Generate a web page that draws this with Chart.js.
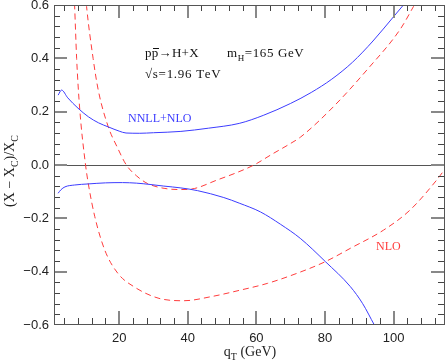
<!DOCTYPE html>
<html>
<head>
<meta charset="utf-8">
<script src="https://cdn.jsdelivr.net/npm/chart.js@4.4.1/dist/chart.umd.min.js"></script>
<style>
  html, body { margin: 0; padding: 0; background: #fff; }
</style>
</head>
<body>
<canvas id="chart" width="448" height="364"></canvas>
<script>
// axis ranges and tick labels
const xMin = 1, xMax = 115, yMin = -0.6, yMax = 0.6;
const xMajor = [20, 40, 60, 80, 100];
const yMajor = [-0.6, -0.4, -0.2, 0.0, 0.2, 0.4, 0.6];

// NNLL+NLO band (upper and lower edge)
const nnllUpperX = [2.2, 3.2, 5, 8, 11, 14, 17, 20, 22, 26, 30, 38, 46, 55, 62, 70, 76, 82, 88, 94, 100, 104];
const nnllUpperY = [0.262, 0.281, 0.252, 0.213, 0.181, 0.158, 0.142, 0.127, 0.120, 0.119, 0.121, 0.126, 0.138, 0.156, 0.186, 0.231, 0.272, 0.322, 0.385, 0.465, 0.556, 0.617];
const nnllLowerX = [2.2, 3, 4.2, 7, 11, 16, 21, 25, 29, 33, 38, 42.8, 50.5, 55, 61.2, 67, 72.8, 80.1, 87.4, 91, 94.4, 95.5];
const nnllLowerY = [-0.106, -0.093, -0.082, -0.075, -0.071, -0.067, -0.066, -0.068, -0.073, -0.079, -0.086, -0.096, -0.122, -0.143, -0.176, -0.222, -0.275, -0.362, -0.456, -0.52, -0.6, -0.625];

// NLO band (two dashed edges)
const nloAX = [6.7, 7.0, 7.6, 8.5, 10.2, 11.0, 12.9, 15.8, 19.6, 24.5, 31.6, 38.9, 46.7, 55.4, 63.2, 72.5, 80.1, 87.4, 97.1, 104.8, 112.6, 115];
const nloAY = [0.68, 0.6, 0.4, 0.21, 0.0, -0.07, -0.194, -0.319, -0.406, -0.458, -0.500, -0.509, -0.494, -0.469, -0.444, -0.403, -0.3625, -0.3125, -0.244, -0.169, -0.056, -0.015];
const nloBX = [10.2, 10.5, 12.4, 13.9, 16.8, 19.5, 22.1, 25, 28.2, 33.1, 38, 42, 48.6, 54, 59.3, 64.5, 70, 72.9, 82.5, 92.2, 102, 105.8, 106.5];
const nloBY = [0.64, 0.594, 0.40, 0.281, 0.144, 0.065, 0.0, -0.04, -0.069, -0.0875, -0.092, -0.088, -0.056, -0.03, 0.0, 0.04, 0.081, 0.105, 0.219, 0.356, 0.51, 0.594, 0.61];

const blue = '#3c3cff';
const red = '#ff3c3c';
const frameCol = '#555';
const minorCol = '#444';
const majorCol = '#888';

function pts(xs, ys) {
  return xs.map((x, i) => ({ x: x, y: ys[i] }));
}

function lineSet(xs, ys, color, dashed) {
  return {
    data: pts(xs, ys),
    borderColor: color,
    borderWidth: 1,
    borderDash: dashed ? [6, 4] : [],
    pointRadius: 0,
    fill: false,
    cubicInterpolationMode: 'monotone'
  };
}

// text made of pieces: plain, subscript, or with an overbar; sp = extra px per char
function drawRich(ctx, parts, x, y, size, family, color, align, sp) {
  sp = sp || 0;
  const pieceW = p => {
    ctx.font = (p.sub ? Math.round(size * 0.7) : size) + 'px ' + family;
    return ctx.measureText(p.t).width + sp * [...p.t].length;
  };
  let w = parts.reduce((s, p) => s + pieceW(p), 0);
  let cx = align === 'center' ? x - w / 2 : x;
  ctx.fillStyle = color;
  ctx.textBaseline = 'alphabetic';
  ctx.textAlign = 'left';
  parts.forEach(p => {
    ctx.font = (p.sub ? Math.round(size * 0.7) : size) + 'px ' + family;
    const yy = y + (p.sub ? size * 0.3 : 0);
    const start = cx;
    [...p.t].forEach(ch => {
      ctx.fillText(ch, cx, yy);
      cx += ctx.measureText(ch).width + sp;
    });
    if (p.bar) {
      ctx.fillRect(Math.round(start + 1), Math.round(y - size * 0.68), Math.round(cx - start - sp - 1), 1);
    }
  });
}

const serif = '"Liberation Serif", "DejaVu Serif", serif';
const sans = '"Liberation Sans", "DejaVu Sans", sans-serif';

const framePlugin = {
  id: 'axesframe',
  beforeDatasetsDraw(chart) {
    const { ctx, chartArea: a, scales } = chart;
    const y0 = Math.round(scales.y.getPixelForValue(0));
    ctx.save();
    ctx.fillStyle = frameCol;
    ctx.fillRect(a.left, y0, a.right - a.left, 1);
    ctx.restore();
  },
  afterDraw(chart) {
    const { ctx, chartArea: a, scales } = chart;
    const xs = scales.x, ys = scales.y;
    const L = Math.round(a.left), R = Math.round(a.right) - 1;
    const T = Math.round(a.top), B = Math.round(a.bottom) - 1;
    ctx.save();
    ctx.setLineDash([]);

    // inward ticks on all four sides: minor every 4 GeV / 0.04, major every 20 GeV / 0.2
    for (let v = 4; v < xMax; v += 4) {
      const major = v % 20 === 0;
      const len = major ? 13 : 6, w = major ? 2 : 1;
      ctx.fillStyle = major ? majorCol : minorCol;
      const px = Math.round(xs.getPixelForValue(v));
      ctx.fillRect(px - (w - 1), B - len, w, len);
      ctx.fillRect(px - (w - 1), T, w, len);
    }
    for (let k = 1; k < 30; k++) {
      const major = k % 5 === 0;
      const len = major ? 13 : 6, w = major ? 2 : 1;
      ctx.fillStyle = major ? majorCol : minorCol;
      const py = Math.round(ys.getPixelForValue(yMin + k * 0.04));
      ctx.fillRect(L, py - (w - 1), len, w);
      ctx.fillRect(R - len, py - (w - 1), len, w);
    }

    // frame
    ctx.fillStyle = frameCol;
    ctx.fillRect(L, T, R - L + 1, 1);
    ctx.fillRect(L, B, R - L + 1, 1);
    ctx.fillRect(L, T, 1, B - T + 1);
    ctx.fillRect(R, T, 1, B - T + 1);

    // tick labels
    ctx.fillStyle = '#222';
    ctx.font = '13px ' + sans;
    ctx.textAlign = 'right';
    ctx.textBaseline = 'middle';
    yMajor.forEach(v => {
      const t = v.toFixed(1).replace('-', '\u2212');
      ctx.fillText(t === '\u22120.0' ? '0.0' : t, 49, ys.getPixelForValue(v));
    });
    ctx.textAlign = 'center';
    ctx.textBaseline = 'top';
    xMajor.forEach(v => {
      ctx.fillText(String(v), xs.getPixelForValue(v), 332);
    });
    ctx.restore();

    // axis titles
    ctx.save();
    drawRich(ctx, [{ t: 'q' }, { t: 'T', sub: true }, { t: ' (GeV)' }], 250, 356, 14, serif, '#222', 'center');
    ctx.translate(14, 171);
    ctx.rotate(-Math.PI / 2);
    drawRich(ctx, [{ t: '(X \u2212 X' }, { t: 'C', sub: true }, { t: ')/X' }, { t: 'C', sub: true }], 0, 0, 14, serif, '#222', 'center');
    ctx.restore();

    // annotations
    ctx.save();
    drawRich(ctx, [{ t: 'p' }, { t: 'p', bar: true }, { t: '\u2192H+X' }], 145, 57, 13, serif, '#111', 'left', 0.3);
    drawRich(ctx, [{ t: 'm' }, { t: 'H', sub: true }, { t: '=165 GeV' }], 227, 57, 13, serif, '#111', 'left', 0.6);
    drawRich(ctx, [{ t: '\u221As=1.96 TeV' }], 145, 78, 13, serif, '#111', 'left', 0.7);
    drawRich(ctx, [{ t: 'NNLL+NLO' }], 128, 122, 12, serif, blue, 'left');
    drawRich(ctx, [{ t: 'NLO' }], 376, 250, 12, serif, red, 'left');
    ctx.restore();
  }
};

new Chart(document.getElementById('chart'), {
  type: 'line',
  data: {
    datasets: [
      lineSet(nnllUpperX, nnllUpperY, blue, false),
      lineSet(nnllLowerX, nnllLowerY, blue, false),
      lineSet(nloAX, nloAY, red, true),
      lineSet(nloBX, nloBY, red, true)
    ]
  },
  options: {
    responsive: false,
    animation: false,
    layout: { padding: { left: 54, right: 3, top: 5, bottom: 39 } },
    plugins: { legend: { display: false }, tooltip: { enabled: false } },
    scales: {
      x: { type: 'linear', min: xMin, max: xMax, display: false },
      y: { type: 'linear', min: yMin, max: yMax, display: false }
    }
  },
  plugins: [framePlugin]
});
</script>
</body>
</html>
